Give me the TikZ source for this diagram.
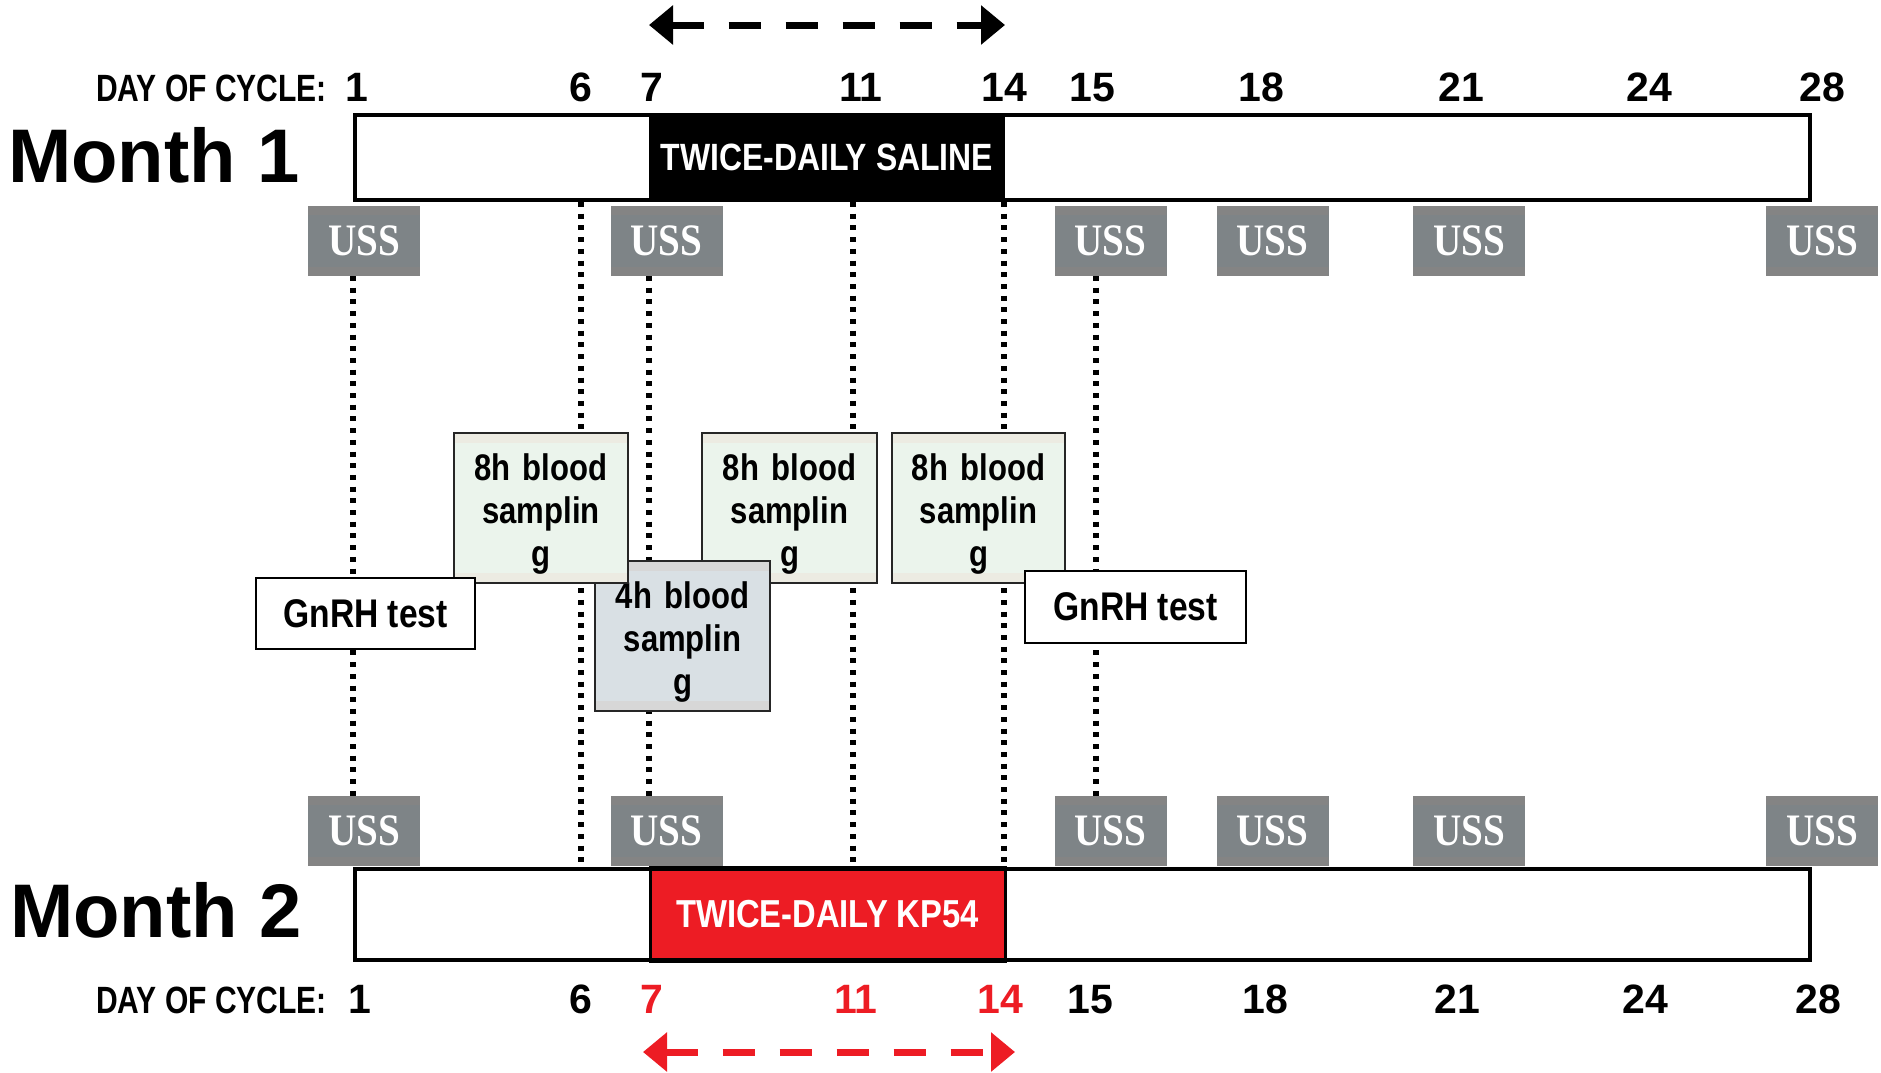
\documentclass[tikz,border=0pt]{standalone}
\usepackage{fontspec}
\setmainfont{Liberation Sans}
\newfontfamily\condA{Liberation Sans}[FakeStretch=0.84]
\newfontfamily\condB{Liberation Sans}[FakeStretch=0.79]
\newfontfamily\ussf{Liberation Serif}[FakeStretch=0.87]
\usetikzlibrary{arrows.meta}
\definecolor{kpred}{RGB}{237,28,36}
\definecolor{ussgray}{RGB}{126,132,135}
\definecolor{ussstrip}{RGB}{132,132,132}
\definecolor{greenbox}{RGB}{235,244,236}
\definecolor{greenstrip}{RGB}{236,235,226}
\definecolor{bluebox}{RGB}{217,224,228}
\definecolor{bluestrip}{RGB}{215,215,215}
\begin{document}
\begin{tikzpicture}[x=1pt,y=-1pt,
  dotline/.style={line width=6.5pt, dash pattern=on 5pt off 6.7pt},
  barbase/.style={fill=white, inner sep=0pt, outer sep=0pt, anchor=north west},
  barline/.style={draw=black, line width=4pt},
  segtext/.style={inner sep=0pt, outer sep=0pt, anchor=north west, text=white,
    font=\condA\bfseries\fontsize{38}{38}\selectfont},
  uss/.style={fill=ussgray, minimum width=112pt, minimum height=70pt, inner sep=0pt, outer sep=0pt,
    text=white, font=\ussf\bfseries\fontsize{45}{45}\selectfont,
    path picture={\fill[ussstrip] (path picture bounding box.north west) rectangle ([yshift=-9pt]path picture bounding box.north east);
      \fill[ussstrip] (path picture bounding box.south west) rectangle ([yshift=9pt]path picture bounding box.south east);}},
  daynum/.style={anchor=base, inner sep=0pt, font=\bfseries\fontsize{41}{41}\selectfont},
  daylabel/.style={anchor=base east, inner sep=0pt, font=\condB\bfseries\fontsize{38}{38}\selectfont},
  monthlabel/.style={anchor=base west, inner sep=0pt, font=\bfseries\fontsize{76}{76}\selectfont},
  sampbox/.style={draw=black!85, line width=2.5pt, minimum height=150pt, inner sep=0pt, outer sep=0pt, anchor=north west},
  greenbx/.style={sampbox, fill=greenbox,
    path picture={\fill[greenstrip] (path picture bounding box.north west) rectangle ([yshift=-10pt]path picture bounding box.north east);
      \fill[greenstrip] (path picture bounding box.south west) rectangle ([yshift=10pt]path picture bounding box.south east);}},
  bluebx/.style={sampbox, fill=bluebox,
    path picture={\fill[bluestrip] (path picture bounding box.north west) rectangle ([yshift=-10pt]path picture bounding box.north east);
      \fill[bluestrip] (path picture bounding box.south west) rectangle ([yshift=10pt]path picture bounding box.south east);}},
  samptext/.style={anchor=base, inner sep=0pt, text width=170pt, align=center,
    font=\condA\bfseries\fontsize{37}{43}\selectfont},
  gnrh/.style={draw=black, fill=white, line width=2.5pt, inner sep=0pt, outer sep=0pt,
    font=\condA\bfseries\fontsize{40}{40}\selectfont},
  period/.style={line width=7pt, dash pattern=on 32pt off 25pt,
    {Triangle[length=24pt,width=38pt]}-{Triangle[length=24pt,width=38pt]}}
]
\useasboundingbox (0,0) rectangle (1881,1072);

% ---- dotted day lines
\coordinate (d1a) at (353,276);  \coordinate (d1b) at (353,796);
\coordinate (d6a) at (581,202);  \coordinate (d6b) at (581,867);
\coordinate (d7a) at (649,276);  \coordinate (d7b) at (649,796);
\coordinate (d11a) at (853,202); \coordinate (d11b) at (853,867);
\coordinate (d14a) at (1004,202);\coordinate (d14b) at (1004,867);
\coordinate (d15a) at (1096,276);\coordinate (d15b) at (1096,796);
\draw[dotline] (d1a) -- (d1b);
\draw[dotline] (d6a) -- (d6b);
\draw[dotline] (d7a) -- (d7b);
\draw[dotline] (d11a) -- (d11b);
\draw[dotline] (d14a) -- (d14b);
\draw[dotline] (d15a) -- (d15b);

% ---- period arrows
\coordinate (pa) at (649,25);  \coordinate (pb) at (1005,25);
\draw[period] (pa) -- (pb);
\coordinate (ra) at (643,1052); \coordinate (rb) at (1015,1052);
\draw[period, kpred] (ra) -- (rb);

% ---- Month 1 bar
\node[barbase, minimum width=1455pt, minimum height=85pt] (bar1) at (355,115) {};
\node[segtext, fill=black, minimum width=356pt, minimum height=89pt] (sal) at (649,113) {TWICE-DAILY SALINE};
\draw[barline] (bar1.north west) rectangle (bar1.south east);

% ---- Month 2 bar
\node[barbase, minimum width=1455pt, minimum height=91pt] (bar2) at (355,869) {};
\node[segtext, fill=kpred, draw=black, line width=3pt, minimum width=355pt, minimum height=94pt, font=\condA\bfseries\fontsize{39}{39}\selectfont] (kp) at (650,867.5) {TWICE-DAILY KP54};
\draw[barline] (bar2.north west) rectangle (bar2.south east);

% ---- labels
\node[monthlabel] (m1) at (8,182) {Month 1};
\node[monthlabel] (m2) at (10,937) {Month 2};

\node[daylabel] (dlt) at (327,101) {DAY OF CYCLE:};
\node[daynum] (t1) at (357,101) {1};
\node[daynum] (t6) at (581,101) {6};
\node[daynum] (t7) at (652,101) {7};
\node[daynum] (t11) at (861,101) {11};
\node[daynum] (t14) at (1004,101) {14};
\node[daynum] (t15) at (1092,101) {15};
\node[daynum] (t18) at (1261,101) {18};
\node[daynum] (t21) at (1461,101) {21};
\node[daynum] (t24) at (1649,101) {24};
\node[daynum] (t28) at (1822,101) {28};

\node[daylabel] (dlb) at (327,1013) {DAY OF CYCLE:};
\node[daynum] (b1) at (360,1013) {1};
\node[daynum] (b6) at (581,1013) {6};
\node[daynum, text=kpred] (b7) at (652,1013) {7};
\node[daynum, text=kpred] (b11) at (856,1013) {11};
\node[daynum, text=kpred] (b14) at (1000,1013) {14};
\node[daynum] (b15) at (1090,1013) {15};
\node[daynum] (b18) at (1265,1013) {18};
\node[daynum] (b21) at (1457,1013) {21};
\node[daynum] (b24) at (1645,1013) {24};
\node[daynum] (b28) at (1818,1013) {28};

% ---- USS boxes
\node[uss] (ut1) at (364,241) {USS};
\node[uss] (ut2) at (666.5,241) {USS};
\node[uss] (ut3) at (1110.5,241) {USS};
\node[uss] (ut4) at (1272.5,241) {USS};
\node[uss] (ut5) at (1469,241) {USS};
\node[uss] (ut6) at (1822,241) {USS};
\node[uss] (ub1) at (364,831) {USS};
\node[uss] (ub2) at (666.5,831) {USS};
\node[uss] (ub3) at (1110.5,831) {USS};
\node[uss] (ub4) at (1272.5,831) {USS};
\node[uss] (ub5) at (1469,831) {USS};
\node[uss] (ub6) at (1822,831) {USS};

% ---- blood sampling boxes
\node[greenbx, minimum width=175pt] (sC) at (702,433) {};
\node[samptext] (tC) at ([yshift=-47pt]sC.north) {8h blood\\samplin\\g};
\node[bluebx, minimum width=175pt] (sB) at (595,561) {};
\node[samptext] (tB) at ([yshift=-47pt]sB.north) {4h blood\\samplin\\g};
\node[greenbx, minimum width=174pt] (sA) at (454,433) {};
\node[samptext] (tA) at ([yshift=-47pt]sA.north) {8h blood\\samplin\\g};
\node[greenbx, minimum width=173pt] (sD) at (892,433) {};
\node[samptext] (tD) at ([yshift=-47pt]sD.north) {8h blood\\samplin\\g};

% ---- GnRH tests
\node[gnrh, minimum width=219pt, minimum height=71pt] (g1) at (365.5,613.5) {GnRH test};
\node[gnrh, minimum width=221pt, minimum height=72pt] (g2) at (1135.5,607) {GnRH test};
\end{tikzpicture}
\end{document}
